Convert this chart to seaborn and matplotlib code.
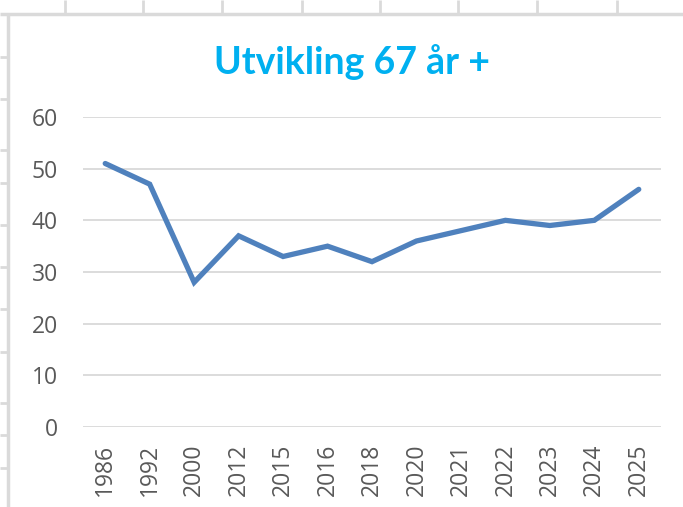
import pandas as pd
import seaborn as sns
import matplotlib.pyplot as plt
from matplotlib.lines import Line2D

# data
years = ["1986", "1992", "2000", "2012", "2015", "2016", "2018",
         "2020", "2021", "2022", "2023", "2024", "2025"]
values = [51, 47, 28, 37, 33, 35, 32, 36, 38, 40, 39, 40, 46]
y_ticks = [0, 10, 20, 30, 40, 50, 60]

title = "Utvikling 67 år +"
line_color = "#4F81BD"
title_color = "#00B0F0"
text_color = "#595959"
grid_color = "#D9D9D9"

df = pd.DataFrame({"year": years, "value": values})

sns.set_theme(style="white")
plt.rcParams["font.family"] = ["Open Sans", "DejaVu Sans"]

W, H = 683, 507
fig = plt.figure(figsize=(W / 100, H / 100), dpi=100)


def px_line(x0, y0, x1, y1, lw=2.0):
    # spreadsheet cell lines around the chart, given in pixels from top-left
    fig.add_artist(Line2D([x0 / W, x1 / W], [1 - y0 / H, 1 - y1 / H],
                          transform=fig.transFigure, color="#DADADA",
                          lw=lw, solid_capstyle="butt", zorder=0))


# cell grid outside the chart object
for x in [65, 143, 222, 302, 380, 458, 537, 617]:
    px_line(x, 0, x, 13)
for y in [57, 99, 150, 183, 225, 267, 309, 352, 403, 435, 468]:
    px_line(0, y, 8, y)
px_line(0, 14, W, 14, lw=2.5)
px_line(8, 14, 8, H, lw=2.5)

ax = fig.add_axes([83 / W, 1 - 427 / H, (661 - 83) / W, (427 - 117) / H])
sns.lineplot(data=df, x="year", y="value", ax=ax, sort=False,
             color=line_color, linewidth=3.8, solid_capstyle="round",
             solid_joinstyle="miter", zorder=3)

ax.set_xlim(-0.5, len(years) - 0.5)
ax.set_ylim(0, 60)
ax.set_yticks(y_ticks)
ax.set_yticklabels([str(t) for t in y_ticks])
ax.yaxis.grid(True, color=grid_color, linewidth=1.3)
ax.xaxis.grid(False)
for s in ax.spines.values():
    s.set_visible(False)
ax.set_xlabel("")
ax.set_ylabel("")
ax.tick_params(axis="y", length=0, pad=18, labelsize=16.5, labelcolor=text_color)
ax.tick_params(axis="x", length=0, pad=12, labelsize=16.5, labelcolor=text_color,
               labelrotation=90)

fig.text(352 / W, 1 - 62 / H, title, ha="center", va="center",
         fontsize=27, fontweight="bold", color=title_color,
         family=["Lato", "DejaVu Sans"])

fig.savefig("out.png", dpi=100)
